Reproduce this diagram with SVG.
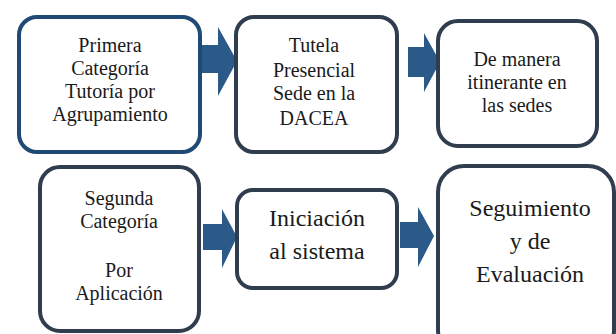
<svg xmlns="http://www.w3.org/2000/svg" width="616" height="334" viewBox="0 0 616 334">
<style>
  .box { fill: #ffffff; stroke: #2f3d4e; stroke-width: 4; }
  .blue { stroke: #1f4a75; }
  .arrow { fill: #2c5a88; stroke: none; }
  text { font-family: 'Liberation Serif', 'Times New Roman', Tinos, 'DejaVu Serif', serif; font-size: 20px; fill: #1a1a1a; text-anchor: middle; }
  .tl { font-size: 24px; }
</style>
<rect width="616" height="334" fill="#ffffff"/>
<g id="connectors">
  <polygon class="arrow" points="201,45 218,45 218,27 237,61 218,96 218,73 201,73"/>
  <polygon class="arrow" points="408,47 424,47 424,33 440,62 424,92 424,77 408,77"/>
  <polygon class="arrow" points="203,224 222,224 222,209 237,237 222,268 222,250 203,250"/>
  <polygon class="arrow" points="400,222 418,222 418,207 434,236 418,267 418,248 400,248"/>
</g>
<g id="node1" font-family="Liberation Serif, serif">
  <rect class="box blue" x="19" y="17" width="181" height="135" rx="18"/>
  <text x="110" y="52">Primera</text>
  <text x="110" y="75">Categoría</text>
  <text x="110" y="98">Tutoría por</text>
  <text x="110" y="121">Agrupamiento</text>
</g>
<g id="node2">
  <rect class="box" x="236" y="17" width="161" height="135" rx="18"/>
  <text x="314" y="52">Tutela</text>
  <text x="314" y="77">Presencial</text>
  <text x="314" y="100">Sede en la</text>
  <text x="314" y="125">DACEA</text>
</g>
<g id="node3">
  <rect class="box" x="438" y="21" width="159" height="125" rx="20"/>
  <text x="517" y="66">De manera</text>
  <text x="517" y="89">itinerante en</text>
  <text x="517" y="112">las sedes</text>
</g>
<g id="node4">
  <rect class="box" x="40" y="167" width="159" height="164" rx="20"/>
  <text x="119" y="205">Segunda</text>
  <text x="119" y="228">Categoría</text>
  <text x="119" y="277">Por</text>
  <text x="119" y="300">Aplicación</text>
</g>
<g id="node5">
  <rect class="box" x="237" y="190" width="160" height="98" rx="16"/>
  <text class="tl" x="317" y="226">Iniciación</text>
  <text class="tl" x="317" y="259">al sistema</text>
</g>
<g id="node6">
  <rect class="box" x="438" y="166" width="176" height="190" rx="26"/>
  <text class="tl" x="530" y="216">Seguimiento</text>
  <text class="tl" x="530" y="249">y de</text>
  <text class="tl" x="530" y="282">Evaluación</text>
</g>
</svg>
